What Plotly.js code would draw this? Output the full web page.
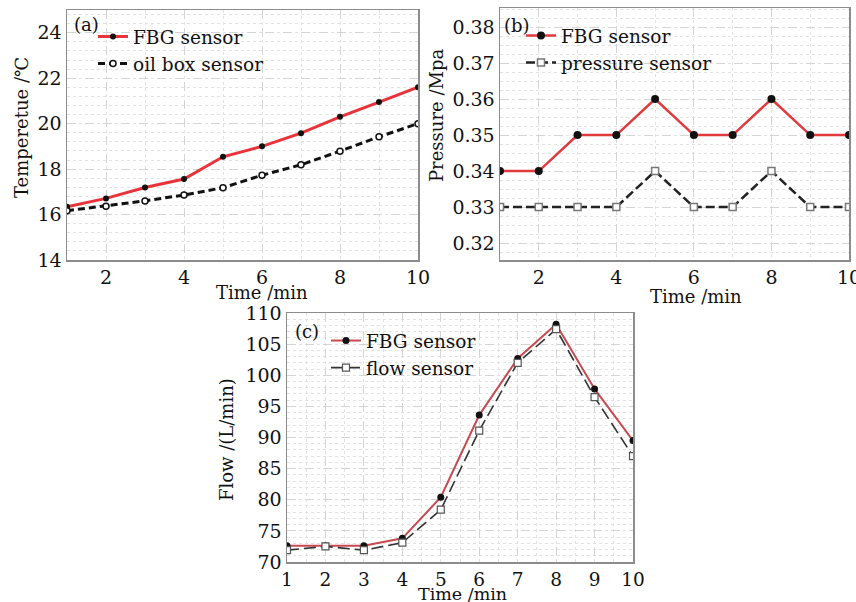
<!DOCTYPE html>
<html>
<head>
<meta charset="utf-8">
<script src="https://cdn.plot.ly/plotly-3.0.1.min.js"></script>
<style>html,body{margin:0;padding:0;background:#fff;}#chart{width:856px;height:602px;}</style>
</head>
<body>
<div id="chart"></div>
<script>
// ---- data ----
const timeMin = [1, 2, 3, 4, 5, 6, 7, 8, 9, 10];

const tempFBG = [16.34, 16.71, 17.19, 17.56, 18.54, 19.0, 19.58, 20.3, 20.95, 21.6];
const tempOilBox = [16.17, 16.37, 16.6, 16.86, 17.18, 17.73, 18.19, 18.79, 19.42, 20.0];

const pressFBG = [0.34, 0.34, 0.35, 0.35, 0.36, 0.35, 0.35, 0.36, 0.35, 0.35];
const pressSensor = [0.33, 0.33, 0.33, 0.33, 0.34, 0.33, 0.33, 0.34, 0.33, 0.33];

const flowFBG = [72.6, 72.6, 72.6, 73.8, 80.4, 93.6, 102.7, 108.2, 97.8, 89.5];
const flowSensor = [71.9, 72.5, 71.9, 73.1, 78.4, 91.1, 102.0, 107.4, 96.5, 87.0];

const tempTicks = [14, 16, 18, 20, 22, 24];
const pressTicks = [0.32, 0.33, 0.34, 0.35, 0.36, 0.37, 0.38];
const flowTicks = [70, 75, 80, 85, 90, 95, 100, 105, 110];

// ---- style ----
const FONT = 'DejaVu Serif, Liberation Serif, serif';
const W = 856, H = 602;
const px = v => v / W;
const py = v => (H - v) / H;

function axisBase(extra) {
  return Object.assign({
    showline: true, mirror: true, linecolor: '#8c8c8c', linewidth: 1.5,
    ticks: '', zeroline: false, ticklabeloverflow: 'allow',
    showgrid: true, gridcolor: '#d4d4d4', griddash: 'dash', gridwidth: 1,
    tickfont: {family: FONT, size: 19, color: '#111'}
  }, extra);
}
const minorGrid = d => ({showgrid: true, gridcolor: '#e2e2e2', griddash: 'dot', gridwidth: 1, dtick: d});

const traces = [
  {x: timeMin, y: tempFBG, xaxis: 'x', yaxis: 'y', name: 'FBG sensor', legend: 'legend',
   mode: 'lines+markers', line: {color: '#e8333a', width: 3},
   marker: {color: '#111', size: 6, symbol: 'circle'}},
  {x: timeMin, y: tempOilBox, xaxis: 'x', yaxis: 'y', name: 'oil box sensor', legend: 'legend',
   mode: 'lines+markers', line: {color: '#111', width: 3, dash: '7px,4px'},
   marker: {color: '#fff', size: 6, symbol: 'circle', line: {color: '#111', width: 1.5}}},
  {x: timeMin, y: pressFBG, xaxis: 'x2', yaxis: 'y2', name: 'FBG sensor', legend: 'legend2',
   mode: 'lines+markers', line: {color: '#e03a3e', width: 2.5},
   marker: {color: '#111', size: 8, symbol: 'circle'}},
  {x: timeMin, y: pressSensor, xaxis: 'x2', yaxis: 'y2', name: 'pressure sensor', legend: 'legend2',
   mode: 'lines+markers', line: {color: '#222', width: 2.5, dash: '9px,4px'},
   marker: {color: '#fff', size: 7, symbol: 'square', line: {color: '#777', width: 1.5}}},
  {x: timeMin, y: flowFBG, xaxis: 'x3', yaxis: 'y3', name: 'FBG sensor', legend: 'legend3',
   mode: 'lines+markers', line: {color: '#c64a4f', width: 2},
   marker: {color: '#111', size: 7, symbol: 'circle'}},
  {x: timeMin, y: flowSensor, xaxis: 'x3', yaxis: 'y3', name: 'flow sensor', legend: 'legend3',
   mode: 'lines+markers', line: {color: '#333', width: 1.6, dash: '12px,5px'},
   marker: {color: '#fff', size: 7, symbol: 'square', line: {color: '#555', width: 1.2}}}
];

function legendAt(x, y) {
  return {x: px(x), y: py(y), xanchor: 'left', yanchor: 'top', bgcolor: 'rgba(0,0,0,0)',
    borderwidth: 0, itemwidth: 30, tracegroupgap: 0,
    font: {family: FONT, size: 18.5, color: '#111'}};
}

function ann(text, x, y, size, angle) {
  return {text: text, x: px(x), y: py(y), xref: 'paper', yref: 'paper', showarrow: false,
    xanchor: 'center', yanchor: 'middle', textangle: angle || 0,
    font: {family: FONT, size: size, color: '#111'}};
}

const layout = {
  width: W, height: H,
  margin: {l: 0, r: 0, t: 0, b: 0},
  paper_bgcolor: '#fff', plot_bgcolor: '#fff',
  showlegend: true,
  xaxis: axisBase({domain: [px(67), px(418)], range: [1, 10], tickvals: [2, 4, 6, 8, 10], anchor: 'y',
    minor: minorGrid(1)}),
  yaxis: axisBase({domain: [py(260), py(10)], range: [14, 25], tickvals: tempTicks, anchor: 'x',
    minor: minorGrid(0.4)}),
  xaxis2: axisBase({domain: [px(500), px(849)], range: [1, 10], tickvals: [2, 4, 6, 8, 10], anchor: 'y2',
    minor: minorGrid(1)}),
  yaxis2: axisBase({domain: [py(260), py(8)], range: [0.3153, 0.3853], tickvals: pressTicks, anchor: 'x2',
    minor: minorGrid(0.0025)}),
  xaxis3: axisBase({domain: [px(287), px(633)], range: [1, 10], tickvals: timeMin, anchor: 'y3',
    minor: minorGrid(0.5), tickfont: {family: FONT, size: 18.5, color: '#111'}}),
  yaxis3: axisBase({domain: [py(562), py(313)], range: [70, 110], tickvals: flowTicks, anchor: 'x3',
    minor: minorGrid(1)}),
  legend: legendAt(93, 18),
  legend2: legendAt(521, 17),
  legend3: legendAt(326, 322),
  annotations: [
    ann('(a)', 86, 25, 18),
    ann('(b)', 517, 26, 18),
    ann('(c)', 307, 331, 18),
    ann('Temperetue /℃', 22, 128, 18, -90),
    ann('Time /min', 262, 292, 18),
    ann('Pressure /Mpa', 437, 115, 18, -90),
    ann('Time /min', 696, 296, 18),
    ann('Flow /(L/min)', 226, 440, 18, -90),
    ann('Time /min', 462, 594, 17.5)
  ]
};

Plotly.newPlot('chart', traces, layout, {staticPlot: true, displayModeBar: false});
</script>
</body>
</html>
